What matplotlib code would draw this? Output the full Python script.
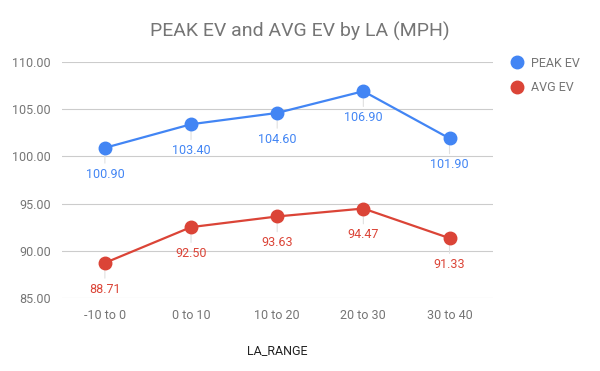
import matplotlib.pyplot as plt

plt.rcParams['font.family'] = ['Roboto', 'DejaVu Sans']

# Data
categories = ['-10 to 0', '0 to 10', '10 to 20', '20 to 30', '30 to 40']
peak_ev = [100.90, 103.40, 104.60, 106.90, 101.90]
avg_ev = [88.71, 92.50, 93.63, 94.47, 91.33]
y_ticks = [85, 90, 95, 100, 105, 110]

blue = '#4285F4'
red = '#DB4437'
grey = '#757575'

fig = plt.figure(figsize=(6, 3.71), dpi=100)
ax = fig.add_axes([0.103, 0.197, 0.718, 0.636])

x = list(range(len(categories)))

for vals, color, name in [(peak_ev, blue, 'PEAK EV'), (avg_ev, red, 'AVG EV')]:
    ax.plot(x, vals, color=color, lw=1.6, marker='o', markersize=9, label=name, zorder=3)
    for xi, v in zip(x, vals):
        # small leader line from point to label
        ax.annotate('', xy=(xi, v), xytext=(0, -13), textcoords='offset points',
                    arrowprops=dict(arrowstyle='-', color='#e0e0e0', lw=0.8), zorder=1)
        ax.annotate(f'{v:.2f}', xy=(xi, v), xytext=(0, -19), textcoords='offset points',
                    ha='center', va='center', color=color, fontsize=9)

ax.set_xlim(-0.5, len(categories) - 0.5)
ax.set_ylim(85, 110)
ax.set_yticks(y_ticks)
ax.set_yticklabels([f'{t:.2f}' for t in y_ticks])
ax.set_xticks(x)
ax.set_xticklabels(categories)
ax.grid(axis='y', color='#cccccc', lw=0.8)
ax.set_axisbelow(True)
for s in ax.spines.values():
    s.set_visible(False)
ax.tick_params(length=0, colors=grey, labelsize=9, pad=8)

ax.set_xlabel('LA_RANGE', fontsize=9, color='#222222', labelpad=16)
fig.suptitle('PEAK EV and AVG EV by LA (MPH)', x=0.5, y=0.94, fontsize=14, color=grey)

ax.legend(loc='upper left', bbox_to_anchor=(1.02, 1.07), frameon=False,
          handlelength=0.8, handletextpad=0.7, labelspacing=0.9, fontsize=9,
          labelcolor=grey, markerscale=1.0)
for h in ax.get_legend().legend_handles:
    h.set_linestyle('none')

fig.savefig('out.png', dpi=100)
